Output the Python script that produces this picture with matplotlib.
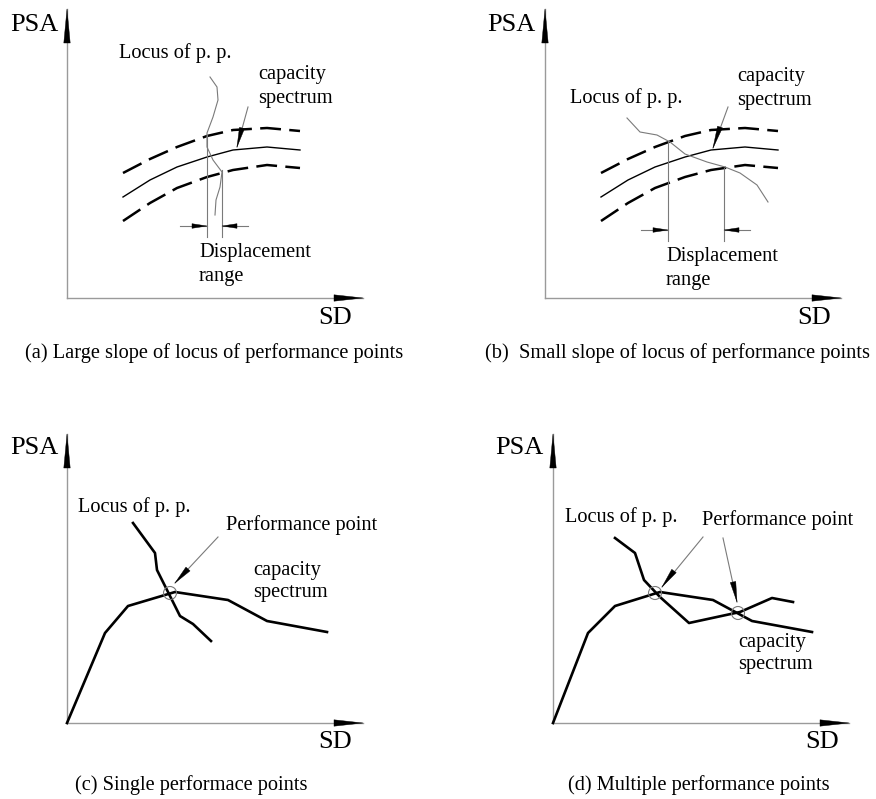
import matplotlib
matplotlib.use('Agg')
import matplotlib.pyplot as plt
from matplotlib.patches import Polygon, Circle

plt.rcParams['font.family'] = ['Liberation Serif', 'DejaVu Serif']
plt.rcParams['lines.scale_dashes'] = False

# ---- data (panel-local units: SD to the right, PSA up) ----
# (a) and (b): capacity spectrum band
band_x = [56, 83, 110, 140, 166, 200, 233]
band_mid = [101, 118, 131, 141, 148, 151, 148]
band_upper = [125, 139, 151, 162, 168, 170, 167]
band_lower = [77, 95, 110, 121, 128, 133, 130]

locus_a_x = [143, 150, 151, 146, 140, 140, 146, 155, 153, 149, 148]
locus_a_y = [221, 211, 198, 181, 165, 151, 138, 126, 111, 98, 83]

locus_b_x = [82, 95, 112, 125, 140, 162, 180, 195, 212, 223]
locus_b_y = [180, 166, 163, 156, 144, 136, 131, 125, 113, 96]

# displacement range limits (SD at the two crossings)
range_a = [140, 155]
range_a_top = [163, 128]
range_b = [123, 179]
range_b_top = [157, 130]

# (c) and (d): capacity spectrum and locus of performance points
cap_c_x = [0, 38, 61, 108, 161, 200, 260]
cap_c_y = [0, 90, 117, 131, 123, 102, 91]
locus_c_x = [66, 88, 90, 113, 126, 144]
locus_c_y = [200, 170, 153, 107, 99, 82]
pp_c_x = [103]
pp_c_y = [130]

cap_d_x = [0, 35, 62, 107, 160, 199, 259]
cap_d_y = [0, 90, 117, 131, 123, 102, 91]
locus_d_x = [62, 82, 91, 107, 136, 187, 219, 240]
locus_d_y = [185, 170, 143, 126, 100, 111, 125, 121]
pp_d_x = [102, 185]
pp_d_y = [130, 110]

W, H = 876, 799
GREY = '#7a7a7a'
AXGREY = '#9a9a9a'

fig = plt.figure(figsize=(W / 100, H / 100), dpi=100)


def panel(ox, oy, x0, x1, y0, y1):
    # axes where one unit is one pixel, origin at the drawn axis corner
    ax = fig.add_axes([x0 / W, (H - y1) / H, (x1 - x0) / W, (y1 - y0) / H])
    ax.set_xlim(x0 - ox, x1 - ox)
    ax.set_ylim(oy - y1, oy - y0)
    ax.axis('off')
    return ax


def wedge(ax, base, tip, hw=2.2, color='black'):
    dx, dy = tip[0] - base[0], tip[1] - base[1]
    n = (dx * dx + dy * dy) ** 0.5
    px, py = -dy / n * hw, dx / n * hw
    ax.add_patch(Polygon([[base[0] + px, base[1] + py], [tip[0], tip[1]],
                          [base[0] - px, base[1] - py]], closed=True,
                         color=color, lw=0.3, zorder=4))


def axes_arrows(ax, xend=296, ytop=289):
    ax.plot([0, 0], [0, ytop], color=AXGREY, lw=1)
    ax.plot([0, xend], [0, 0], color=AXGREY, lw=1)
    wedge(ax, (0, ytop - 34), (0, ytop), hw=3.2)
    wedge(ax, (xend - 29, 0), (xend, 0), hw=3.2)


def label(ax, x, y, s, size=14.7):
    ax.text(x, y, s, fontsize=size, ha='left', va='center')


axa = panel(67, 298, 0, 438, 0, 399)
axb = panel(545, 298, 438, 876, 0, 399)
axc = panel(67, 723, 0, 438, 399, 799)
axd = panel(553, 723, 438, 876, 399, 799)

# ---- (a) and (b) ----
for ax, lx, ly, rng, rtop, ydim in [(axa, locus_a_x, locus_a_y, range_a, range_a_top, 72),
                                    (axb, locus_b_x, locus_b_y, range_b, range_b_top, 68)]:
    axes_arrows(ax)
    ax.plot(band_x, band_upper, color='black', lw=1.8, dashes=(15, 6))
    ax.plot(band_x, band_mid, color='black', lw=1.0)
    ax.plot(band_x, band_lower, color='black', lw=1.8, dashes=(15, 6))
    ax.plot(lx, ly, color=GREY, lw=0.8)
    bottom = ydim - 11
    ax.plot([rng[0], rng[0]], [rtop[0], bottom], color=GREY, lw=0.8)
    ax.plot([rng[1], rng[1]], [rtop[1], bottom], color=GREY, lw=0.8)
    ax.plot([rng[0] - 27, rng[0]], [ydim, ydim], color=GREY, lw=0.8)
    ax.plot([rng[1], rng[1] + 26], [ydim, ydim], color=GREY, lw=0.8)
    wedge(ax, (rng[0] - 15, ydim), (rng[0], ydim), hw=2.3)
    wedge(ax, (rng[1] + 15, ydim), (rng[1], ydim), hw=2.3)

# capacity spectrum leaders
axa.plot([181, 170], [191, 151], color=GREY, lw=0.8)
wedge(axa, (175, 170), (170, 151), hw=2.6)
axb.plot([183, 168], [191, 150], color=GREY, lw=0.8)
wedge(axb, (175, 171), (168, 150), hw=2.6)

label(axa, -57, 273, 'PSA', 19)
label(axa, 251, -20, 'SD', 19)
label(axa, 52, 245, 'Locus of p. p.')
label(axa, 191, 223, 'capacity')
label(axa, 191, 200, 'spectrum')
label(axa, 132, 45, 'Displacement')
label(axa, 132, 21, 'range')
label(axa, -42, -55, '(a) Large slope of locus of performance points')

label(axb, -58, 273, 'PSA', 19)
label(axb, 252, -20, 'SD', 19)
label(axb, 25, 200, 'Locus of p. p.')
label(axb, 192, 221, 'capacity')
label(axb, 192, 198, 'spectrum')
label(axb, 121, 41, 'Displacement')
label(axb, 121, 18, 'range')
label(axb, -60, -55, '(b)  Small slope of locus of performance points')

# ---- (c) ----
axes_arrows(axc)
axc.plot(cap_c_x, cap_c_y, color='black', lw=1.9)
axc.plot(locus_c_x, locus_c_y, color='black', lw=1.9)
for x, y in zip(pp_c_x, pp_c_y):
    axc.add_patch(Circle((x, y), 6.5, fill=False, ec=GREY, lw=0.8, zorder=3))
axc.plot([151, 108], [186, 140], color=GREY, lw=0.8)
wedge(axc, (121, 154), (108, 140), hw=2.8)

label(axc, -57, 275, 'PSA', 19)
label(axc, 251, -19, 'SD', 19)
label(axc, 11, 216, 'Locus of p. p.')
label(axc, 159, 198, 'Performance point')
label(axc, 186, 152, 'capacity')
label(axc, 186, 130, 'spectrum')
label(axc, 8, -62, '(c) Single performace points')

# ---- (d) ----
axes_arrows(axd)
axd.plot(cap_d_x, cap_d_y, color='black', lw=1.9)
axd.plot(locus_d_x, locus_d_y, color='black', lw=1.9)
for x, y in zip(pp_d_x, pp_d_y):
    axd.add_patch(Circle((x, y), 6.5, fill=False, ec=GREY, lw=0.8, zorder=3))
axd.plot([150, 109], [186, 136], color=GREY, lw=0.8)
wedge(axd, (121, 152), (109, 136), hw=2.8)
axd.plot([170, 184], [185, 121], color=GREY, lw=0.8)
wedge(axd, (180, 141), (184, 121), hw=2.8)

label(axd, -58, 275, 'PSA', 19)
label(axd, 252, -19, 'SD', 19)
label(axd, 12, 206, 'Locus of p. p.')
label(axd, 149, 203, 'Performance point')
label(axd, 185, 81, 'capacity')
label(axd, 185, 58, 'spectrum')
label(axd, 15, -62, '(d) Multiple performance points')

fig.savefig('out.png', dpi=100)
